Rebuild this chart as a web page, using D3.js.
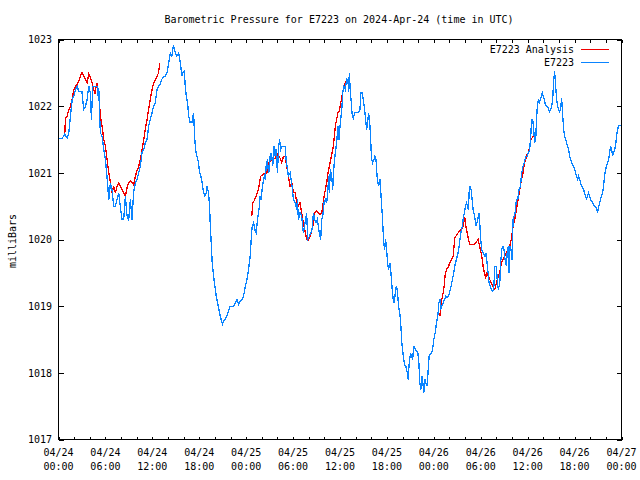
<!DOCTYPE html>
<html><head><meta charset="utf-8">
<script src="https://cdn.jsdelivr.net/npm/d3@7"></script>
<style>
body{margin:0;background:#fff}
svg{display:block}
text{font-family:"DejaVu Sans Mono",monospace;font-size:10px;fill:#000}
</style>
</head><body><svg id="c" width="640" height="480"></svg>
<script>
const titleText = "Barometric Pressure for E7223 on 2024-Apr-24 (time in UTC)";
const yLabelText = "milliBars";
const seriesNames = ["E7223 Analysis", "E7223"];
const seriesColors = ["#f00000", "#0a84ff"];
const startUTC = Date.UTC(2024, 3, 24, 0, 0);
const spanHours = 72;
const yDomain = [1017, 1023];
const yTicks = [1017, 1018, 1019, 1020, 1021, 1022, 1023];

// station observations: hours since 2024-04-24 00:00 UTC
const stationHours = [0,0.5,0.78,1.1,1.3,1.53,1.75,1.96,2.17,2.38,2.6,3.0,3.23,3.45,3.66,3.87,4.08,4.21,4.38,4.64,4.94,5.02,5.15,5.28,5.36,5.57,5.79,6.0,6.2,6.43,6.64,6.85,7.06,7.28,7.49,7.7,7.9,8.13,8.34,8.55,8.77,8.98,9.19,9.4,9.6,9.83,10.04,10.26,10.47,10.68,10.9,11.1,11.32,11.53,11.74,11.96,12.17,12.38,12.6,12.8,13.0,13.2,13.45,13.66,13.87,14.1,14.3,14.5,14.7,14.94,15.15,15.36,15.58,15.79,15.92,16.09,16.21,16.34,16.51,16.64,16.85,17.06,17.19,17.28,17.4,17.53,17.7,17.91,18.04,18.21,18.38,18.55,18.72,18.89,18.98,19.19,19.32,19.4,19.53,19.66,19.83,20.0,20.17,20.34,20.51,20.68,20.85,20.98,21.11,21.32,21.53,21.75,21.96,22.38,22.6,22.81,23.02,23.23,23.45,23.66,23.87,24.09,24.3,24.51,24.64,24.77,24.94,25.15,25.28,25.45,25.58,25.7,25.79,25.92,26.04,26.21,26.34,26.47,26.55,26.72,26.85,26.98,27.06,27.23,27.4,27.57,27.7,27.83,28.0,28.13,28.26,28.43,28.6,28.98,29.11,29.28,29.4,29.62,29.74,29.87,30.04,30.26,30.47,30.55,30.68,30.89,31.1,31.32,31.53,31.74,31.87,32.09,32.26,32.43,32.6,32.77,32.94,33.11,33.23,33.36,33.53,33.66,33.79,33.96,34.13,34.3,34.43,34.55,34.64,34.77,34.94,35.06,35.23,35.4,35.57,35.74,35.87,36.0,36.13,36.26,36.34,36.51,36.68,36.85,37.02,37.11,37.19,37.28,37.36,37.45,37.53,37.7,37.91,38.34,38.55,38.68,38.81,38.98,39.15,39.28,39.4,39.53,39.66,39.83,39.96,40.04,40.17,40.34,40.47,40.6,40.77,40.94,41.11,41.28,41.4,41.57,41.7,41.83,41.96,42.09,42.21,42.38,42.51,42.64,42.81,42.94,43.11,43.23,43.36,43.49,43.66,43.79,43.91,44.09,44.26,44.43,44.6,44.72,44.85,45.02,45.15,45.28,45.45,45.62,45.79,45.96,46.09,46.21,46.34,46.47,46.6,46.72,46.85,46.98,47.15,47.28,47.4,47.7,47.83,48.0,48.17,48.34,48.51,48.64,48.77,48.89,49.02,49.19,49.36,49.53,49.7,49.87,50.04,50.21,50.38,50.55,50.72,50.89,51.1,51.23,51.4,51.53,51.66,51.79,51.91,52.04,52.17,52.3,52.43,52.51,52.64,52.77,52.89,53.02,53.23,53.36,53.53,53.7,53.79,53.87,54.0,54.13,54.3,54.55,54.68,54.81,54.94,55.06,55.23,55.36,55.49,55.66,55.79,56.0,56.13,56.26,56.43,56.55,56.68,56.85,56.98,57.1,57.28,57.4,57.53,57.62,57.74,57.87,58.0,58.13,58.39,58.56,58.73,58.9,59.07,59.24,59.41,59.58,59.75,59.92,60.09,60.26,60.39,60.51,60.64,60.77,60.9,61.03,61.11,61.24,61.37,61.49,61.62,61.75,61.88,62.0,62.13,62.26,62.39,62.56,62.69,62.81,62.94,63.07,63.2,63.32,63.45,63.58,63.71,63.83,63.96,64.09,64.22,64.34,64.47,64.6,64.73,64.86,64.98,65.11,65.24,65.37,65.49,65.62,65.75,65.88,66.0,66.13,66.26,66.39,66.52,66.64,66.77,66.9,67.15,67.28,67.41,67.54,67.66,67.79,67.92,68.05,68.3,68.43,68.56,68.81,68.94,69.07,69.2,69.32,69.45,69.58,69.71,69.83,69.96,70.09,70.22,70.35,70.47,70.6,70.73,70.86,70.98,71.11,71.24,71.37,71.5,71.62,71.88];
const stationValues = [1021.52,1021.52,1021.58,1021.52,1021.58,1021.85,1022.1,1022.15,1022.25,1022.3,1022.22,1022.22,1021.95,1022.0,1022.1,1022.3,1022.2,1021.8,1022.3,1022.3,1022.3,1022.15,1022.27,1021.8,1021.6,1021.55,1021.35,1021.2,1020.95,1020.6,1020.85,1020.75,1020.5,1020.5,1020.6,1020.7,1020.5,1020.3,1020.3,1020.65,1020.35,1020.3,1020.6,1020.3,1020.7,1020.85,1020.9,1021.0,1021.1,1021.3,1021.35,1021.45,1021.5,1021.7,1021.8,1021.9,1022.0,1022.05,1022.25,1022.3,1022.33,1022.4,1022.45,1022.45,1022.5,1022.65,1022.8,1022.75,1022.91,1022.8,1022.75,1022.8,1022.65,1022.45,1022.5,1022.52,1022.3,1022.15,1022.05,1021.85,1021.75,1021.75,1021.85,1021.9,1021.55,1021.35,1021.25,1021.15,1021.0,1020.95,1020.85,1020.7,1020.65,1020.7,1020.8,1020.7,1020.5,1020.25,1019.95,1019.65,1019.45,1019.3,1019.15,1019.05,1018.95,1018.85,1018.78,1018.73,1018.78,1018.8,1018.85,1018.93,1019.0,1019.0,1019.05,1019.1,1019.03,1019.08,1019.1,1019.15,1019.28,1019.4,1019.55,1019.75,1020.0,1020.2,1020.25,1020.13,1020.1,1020.3,1020.4,1020.5,1020.65,1020.6,1020.75,1020.9,1020.95,1020.9,1021.1,1021.2,1021.0,1021.05,1021.25,1021.3,1021.1,1021.4,1021.25,1021.35,1021.0,1021.35,1021.5,1021.35,1021.4,1021.4,1021.2,1021.05,1020.95,1021.0,1020.9,1020.8,1020.6,1020.55,1020.45,1020.6,1020.3,1020.4,1020.35,1020.1,1020.25,1020.4,1020.0,1020.05,1020.1,1020.15,1020.4,1020.3,1020.25,1020.3,1020.2,1020.1,1020.0,1020.3,1020.35,1020.55,1020.6,1020.55,1020.7,1020.95,1020.7,1021.05,1020.95,1020.75,1021.1,1021.3,1021.45,1021.7,1021.5,1021.7,1021.85,1022.0,1022.2,1022.3,1022.25,1022.4,1022.38,1022.22,1022.5,1022.3,1022.15,1022.05,1021.9,1021.82,1021.9,1021.9,1021.95,1022.2,1022.2,1022.1,1021.95,1021.8,1021.65,1021.75,1021.9,1021.7,1021.4,1021.2,1021.15,1021.2,1021.25,1021.2,1020.9,1020.8,1020.9,1020.6,1020.38,1020.0,1019.85,1020.0,1019.85,1019.65,1019.55,1019.65,1019.5,1019.3,1019.1,1019.05,1019.25,1019.3,1019.2,1019.0,1018.88,1018.7,1018.45,1018.25,1018.12,1018.1,1018.0,1017.9,1018.15,1018.3,1018.25,1018.2,1018.4,1018.35,1018.33,1018.3,1018.15,1017.85,1017.75,1017.95,1017.85,1017.7,1017.9,1017.85,1017.8,1018.05,1018.25,1018.3,1018.35,1018.5,1018.6,1018.75,1018.85,1019.05,1019.1,1018.95,1019.0,1019.05,1019.1,1019.15,1019.13,1019.15,1019.22,1019.3,1019.4,1019.5,1019.62,1019.7,1019.8,1019.9,1020.05,1020.15,1020.2,1020.35,1020.4,1020.5,1020.55,1020.5,1020.45,1020.7,1020.8,1020.75,1020.6,1020.45,1020.35,1020.2,1020.25,1020.35,1020.4,1020.25,1020.0,1019.85,1019.8,1019.75,1019.8,1019.65,1019.5,1019.35,1019.3,1019.25,1019.22,1019.25,1019.6,1019.6,1019.35,1019.25,1019.35,1019.65,1019.85,1019.9,1019.85,1019.7,1019.6,1019.85,1019.9,1019.5,1019.9,1019.85,1019.7,1020.3,1020.4,1020.6,1020.6,1020.75,1020.8,1021.0,1021.1,1021.15,1021.25,1021.25,1021.3,1021.35,1021.55,1021.8,1021.8,1021.65,1021.45,1021.5,1021.75,1022.0,1022.1,1022.05,1022.1,1022.15,1022.2,1022.15,1022.1,1022.02,1022.0,1022.0,1021.95,1021.92,1021.95,1022.0,1022.1,1022.37,1022.52,1022.3,1022.1,1022.0,1021.95,1021.92,1021.97,1022.12,1021.88,1021.65,1021.55,1021.5,1021.45,1021.4,1021.35,1021.25,1021.2,1021.15,1021.12,1021.1,1021.05,1021.0,1020.95,1020.9,1020.95,1020.9,1020.85,1020.8,1020.75,1020.7,1020.65,1020.61,1020.65,1020.7,1020.65,1020.6,1020.55,1020.52,1020.5,1020.48,1020.4,1020.48,1020.55,1020.6,1020.65,1020.7,1020.8,1020.95,1021.05,1021.1,1021.15,1021.2,1021.3,1021.4,1021.35,1021.25,1021.3,1021.35,1021.4,1021.55,1021.65,1021.7,1021.72];

// analysis: null marks a gap between runs
const analysisHours = [0.68,0.81,0.89,1.11,1.32,1.53,1.74,1.96,2.17,2.38,2.6,2.94,3.02,3.23,3.45,3.66,3.87,4.08,4.3,4.51,4.64,4.81,4.94,5.06,5.23,5.36,5.57,5.79,6.0,6.21,6.43,6.64,6.85,7.06,7.28,7.49,7.7,7.9,8.13,8.34,8.55,8.77,8.98,9.19,9.4,9.62,9.83,10.04,10.26,10.47,10.68,10.9,11.1,11.32,11.53,11.74,11.96,12.17,12.38,12.6,12.8,12.94,18,24.72,24.85,25.02,25.19,25.36,25.57,25.7,25.87,26.21,26.64,26.85,27.28,27.7,27.9,28.13,28.34,28.55,28.77,28.98,29.19,29.4,29.62,29.83,30.04,30.26,30.47,30.68,30.89,31.1,31.23,31.4,31.57,31.74,31.91,32.09,32.26,32.43,32.6,32.77,32.94,33.28,33.45,33.66,33.79,33.96,34.13,34.3,34.47,34.64,34.81,34.98,35.15,35.28,35.4,35.57,35.74,35.91,36.09,36.26,36.43,36.6,36.72,36.85,42,48.77,48.9,49.02,49.19,49.32,49.45,49.62,49.83,50.04,50.25,50.47,50.68,50.89,51.1,51.32,51.53,51.74,51.96,52.09,52.26,52.43,52.6,53.23,53.66,53.79,53.96,54.13,54.3,54.47,54.64,54.81,54.98,55.15,55.36,55.57,55.79,56.0,56.21,56.43,56.64,56.85,57.07,57.28,57.5,57.7,57.91,58.13,58.34,58.56,58.77,58.98,59.2,59.41,59.58,59.75,59.92,60.09,60.26,60.43,60.6,60.77];
const analysisValues = [1021.6,1021.6,1021.82,1021.85,1021.95,1022.0,1022.1,1022.25,1022.3,1022.33,1022.38,1022.5,1022.5,1022.45,1022.4,1022.35,1022.48,1022.43,1022.35,1022.25,1022.18,1022.3,1022.35,1022.2,1022.05,1021.85,1021.7,1021.5,1021.4,1021.2,1021.0,1020.85,1020.7,1020.8,1020.7,1020.8,1020.85,1020.8,1020.75,1020.7,1020.65,1020.78,1020.85,1020.88,1020.85,1020.82,1020.95,1021.03,1021.1,1021.2,1021.35,1021.5,1021.65,1021.8,1021.95,1022.1,1022.25,1022.35,1022.4,1022.45,1022.5,1022.64,null,1020.35,1020.55,1020.58,1020.63,1020.68,1020.75,1020.85,1020.95,1020.98,1021.0,1021.15,1021.2,1021.22,1021.3,1021.25,1021.22,1021.15,1021.25,1021.25,1021.1,1020.95,1020.8,1020.85,1020.7,1020.7,1020.55,1020.5,1020.55,1020.4,1020.3,1020.2,1020.1,1020.0,1019.98,1020.03,1020.08,1020.15,1020.25,1020.4,1020.43,1020.4,1020.38,1020.4,1020.5,1020.65,1020.75,1020.85,1021.0,1021.1,1021.2,1021.3,1021.4,1021.55,1021.7,1021.8,1021.9,1021.93,1022.05,1022.15,1022.25,1022.33,1022.36,1022.35,null,1018.85,1019.0,1019.1,1019.2,1019.3,1019.47,1019.55,1019.58,1019.65,1019.7,1019.75,1020.03,1020.06,1020.1,1020.13,1020.15,1020.2,1020.33,1020.2,1020.1,1020.0,1019.93,1019.93,1020.0,1019.93,1019.85,1019.75,1019.6,1019.5,1019.43,1019.5,1019.45,1019.4,1019.35,1019.3,1019.25,1019.35,1019.43,1019.5,1019.65,1019.7,1019.75,1019.8,1019.85,1019.9,1020.0,1020.2,1020.3,1020.45,1020.6,1020.75,1020.9,1021.0,1021.15,1021.2,1021.27,1021.3,1021.4,1021.5,1021.53,1021.55];

const svg = d3.select("#c");
const L = 58.5, R = 621.5, T = 39.5, B = 439.5;
const toDate = h => new Date(startUTC + h * 3600e3);
const x = d3.scaleUtc().domain([toDate(0), toDate(spanHours)]).range([L, R]);
const y = d3.scaleLinear().domain(yDomain).range([B, T]);

// title
svg.append("text").attr("x", 339).attr("y", 23).attr("text-anchor", "middle").text(titleText);
// y label
svg.append("text").attr("transform", "translate(15.5,241) rotate(-90)").attr("text-anchor", "middle").text(yLabelText);

// axes (ticks inward, mirrored)
const tick2h = d3.utcHour.every(2);
const gx = svg.append("g").attr("transform", `translate(0,${B})`)
  .call(d3.axisBottom(x).ticks(tick2h).tickSize(-3).tickFormat(""));
const gx2 = svg.append("g").attr("transform", `translate(0,${T})`)
  .call(d3.axisTop(x).ticks(tick2h).tickSize(-3).tickFormat(""));
const gy = svg.append("g").attr("transform", `translate(${L},0)`)
  .call(d3.axisLeft(y).tickValues(yTicks).tickSize(-5).tickPadding(6.5).tickFormat(d3.format("d")));
const gy2 = svg.append("g").attr("transform", `translate(${R},0)`)
  .call(d3.axisRight(y).tickValues(yTicks).tickSize(-5).tickFormat(""));
[gx, gx2, gy, gy2].forEach(g => {
  g.select(".domain").remove();
  g.attr("font-family", null).attr("font-size", null);
  g.selectAll("line").attr("stroke", "#000").attr("shape-rendering", "crispEdges");
});
gy.selectAll("text").attr("fill", "#000");

// two-line x labels
const fmtD = d3.utcFormat("%m/%d"), fmtT = d3.utcFormat("%H:%M");
const xl = svg.append("g").selectAll("g").data(x.ticks(d3.utcHour.every(6))).join("g")
  .attr("transform", d => `translate(${x(d)},0)`);
xl.append("text").attr("y", 456).attr("text-anchor", "middle").text(fmtD);
xl.append("text").attr("y", 470).attr("text-anchor", "middle").text(fmtT);

// border
svg.append("rect").attr("x", L).attr("y", T).attr("width", R - L).attr("height", B - T)
  .attr("fill", "none").attr("stroke", "#000").attr("shape-rendering", "crispEdges");

// series
const line = d3.line().defined(d => d.v != null).x(d => x(d.t)).y(d => y(d.v));
const analysisData = analysisHours.map((h, i) => ({t: toDate(h), v: analysisValues[i]}));
const stationData = stationHours.map((h, i) => ({t: toDate(h), v: stationValues[i]}));
svg.append("path").datum(analysisData).attr("d", line).attr("fill", "none")
  .attr("stroke", seriesColors[0]).attr("stroke-width", 1.3).attr("shape-rendering", "crispEdges");
svg.append("path").datum(stationData).attr("d", line).attr("fill", "none")
  .attr("stroke", seriesColors[1]).attr("stroke-width", 1.3).attr("shape-rendering", "crispEdges");

// legend
const lg = svg.append("g");
seriesNames.forEach((n, i) => {
  const yy = 49.5 + i * 13;
  lg.append("text").attr("x", 574).attr("y", yy + 3.5).attr("text-anchor", "end").text(n);
  lg.append("line").attr("x1", 581).attr("x2", 609).attr("y1", yy).attr("y2", yy)
    .attr("stroke", seriesColors[i]).attr("stroke-width", 1.2).attr("shape-rendering", "crispEdges");
});
</script>
</body></html>
